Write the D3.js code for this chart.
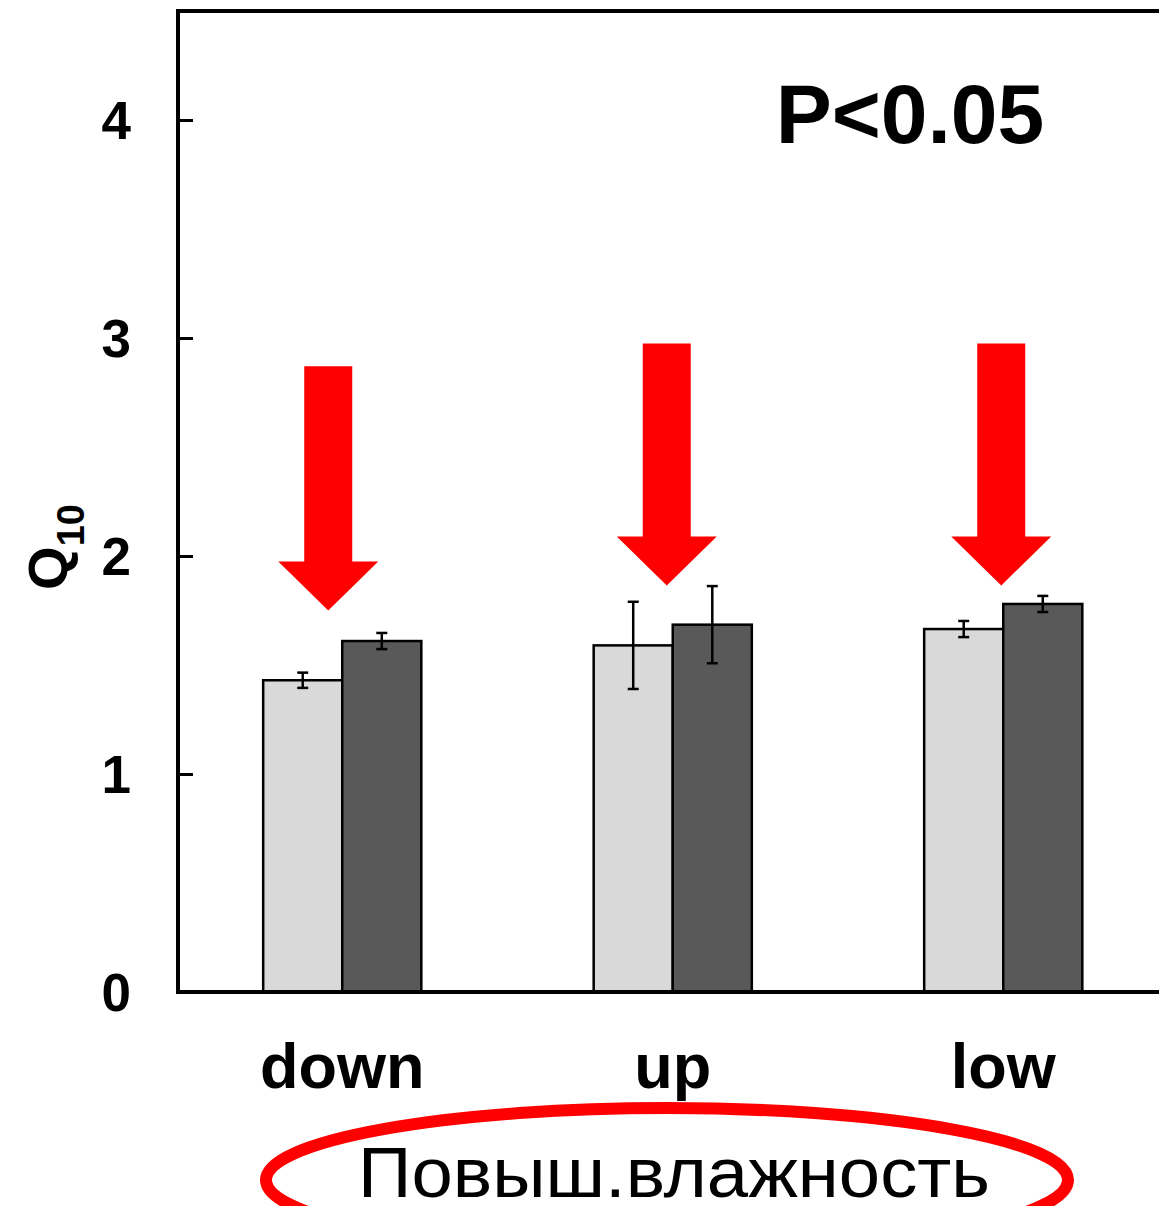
<!DOCTYPE html>
<html>
<head>
<meta charset="utf-8">
<script src="https://cdn.jsdelivr.net/npm/d3@7"></script>
<style>
  html, body { margin: 0; padding: 0; background: #fff; }
  svg { display: block; font-family: "Liberation Sans", Arial, sans-serif; }
</style>
</head>
<body>
<div id="chart"></div>
<script>
const categories = ["down", "up", "low"];
const seriesNames = ["light", "dark"];
const lightValues = [1.43, 1.59, 1.665];
const darkValues = [1.61, 1.685, 1.78];
const lightErrors = [0.035, 0.2, 0.037];
const darkErrors = [0.037, 0.177, 0.037];
const yTicks = [0, 1, 2, 3, 4];
const arrowTips = [1.75, 1.865, 1.865];
const arrowTops = [2.87, 2.975, 2.975];
const pLabel = "P<0.05";
const groupLabel = "Повыш.влажность";

const width = 1159, height = 1206;
const colours = {light: "#d9d9d9", dark: "#595959"};

const svg = d3.select("#chart").append("svg")
    .attr("width", width)
    .attr("height", height);

// scales
let x0 = d3.scaleBand()
    .domain(categories)
    .range([177, 1168.5])
    .padding(0);
let x1 = d3.scaleBand()
    .domain(seriesNames)
    .range([0, x0.bandwidth()])
    .paddingInner(0)
    .paddingOuter(1.09);
let y = d3.scaleLinear()
    .domain([0, 4.5])
    .range([992, 11]);

const data = categories.map((c, i) => ({
    cat: c,
    bars: [
        {series: "light", value: lightValues[i], err: lightErrors[i]},
        {series: "dark", value: darkValues[i], err: darkErrors[i]}
    ]
}));

// bars
const groups = svg.selectAll("g.group")
    .data(data)
    .join("g")
    .attr("class", "group")
    .attr("transform", d => `translate(${x0(d.cat)},0)`);

groups.selectAll("rect")
    .data(d => d.bars)
    .join("rect")
    .attr("x", d => x1(d.series))
    .attr("y", d => y(d.value))
    .attr("width", x1.bandwidth())
    .attr("height", d => y(0) - y(d.value))
    .attr("fill", d => colours[d.series])
    .attr("stroke", "#000")
    .attr("stroke-width", 2.5);

// error bars
const errG = groups.selectAll("g.err")
    .data(d => d.bars)
    .join("g")
    .attr("class", "err")
    .attr("transform", d => `translate(${x1(d.series) + x1.bandwidth() / 2},0)`)
    .attr("stroke", "#000")
    .attr("stroke-width", 2.5);
errG.append("line")
    .attr("y1", d => y(d.value + d.err))
    .attr("y2", d => y(d.value - d.err));
errG.append("line")
    .attr("x1", -5.5).attr("x2", 5.5)
    .attr("y1", d => y(d.value + d.err))
    .attr("y2", d => y(d.value + d.err));
errG.append("line")
    .attr("x1", -5.5).attr("x2", 5.5)
    .attr("y1", d => y(d.value - d.err))
    .attr("y2", d => y(d.value - d.err));

// y axis
const yAxis = svg.append("g")
    .attr("transform", "translate(178,0)")
    .call(d3.axisRight(y).tickValues(yTicks).tickSize(15).tickFormat(""));
yAxis.select(".domain").remove();
yAxis.selectAll(".tick line").attr("stroke", "#000").attr("stroke-width", 3);

svg.selectAll("text.ytick")
    .data(yTicks)
    .join("text")
    .attr("class", "ytick")
    .attr("x", 131)
    .attr("y", d => y(d))
    .attr("dy", "0.36em")
    .attr("text-anchor", "end")
    .style("font-size", "53px")
    .style("font-weight", "bold")
    .text(d => d);

// frame: top, left, bottom
svg.append("path")
    .attr("d", `M${width + 5},${y(4.5)}H178V${y(0)}H${width + 5}`)
    .attr("fill", "none")
    .attr("stroke", "#000")
    .attr("stroke-width", 4);

// y label Q10
const yLabel = svg.append("text")
    .attr("transform", "translate(67,547) rotate(-90)")
    .attr("text-anchor", "middle")
    .style("font-weight", "bold");
yLabel.append("tspan").style("font-size", "56px").text("Q");
yLabel.append("tspan").style("font-size", "38px").attr("dy", 17).text("10");

// category labels
svg.selectAll("text.cat")
    .data(categories)
    .join("text")
    .attr("class", "cat")
    .attr("x", d => x0(d) + x0.bandwidth() / 2)
    .attr("y", 1088)
    .attr("text-anchor", "middle")
    .style("font-size", "63px")
    .style("font-weight", "bold")
    .text(d => d);

// p value
svg.append("text")
    .attr("x", 910)
    .attr("y", 143)
    .attr("text-anchor", "middle")
    .style("font-size", "84px")
    .style("font-weight", "bold")
    .text(pLabel);

// red arrows
const arrowNudge = [-14, -6, -2];
const shaftW = 48, headW = 100, headH = 49;
svg.selectAll("path.arrow")
    .data(categories)
    .join("path")
    .attr("class", "arrow")
    .attr("fill", "#ff0000")
    .attr("d", (d, i) => {
        const cx = x0(d) + x0.bandwidth() / 2 + arrowNudge[i];
        const tip = y(arrowTips[i]);
        const top = y(arrowTops[i]);
        const hb = tip - headH;
        return `M${cx - shaftW / 2},${top}H${cx + shaftW / 2}V${hb}H${cx + headW / 2}` +
               `L${cx},${tip}L${cx - headW / 2},${hb}H${cx - shaftW / 2}Z`;
    });

// group label with red ellipse
svg.append("ellipse")
    .attr("cx", 667)
    .attr("cy", 1180)
    .attr("rx", 401)
    .attr("ry", 72)
    .attr("fill", "none")
    .attr("stroke", "#ff0000")
    .attr("stroke-width", 12);

svg.append("text")
    .attr("x", 358)
    .attr("y", 1197)
    .attr("textLength", 632)
    .attr("lengthAdjust", "spacingAndGlyphs")
    .style("font-family", "'Liberation Sans Narrow', 'Arial Narrow', 'Liberation Sans', sans-serif")
    .style("font-size", "71px")
    .text(groupLabel);
</script>
</body>
</html>
